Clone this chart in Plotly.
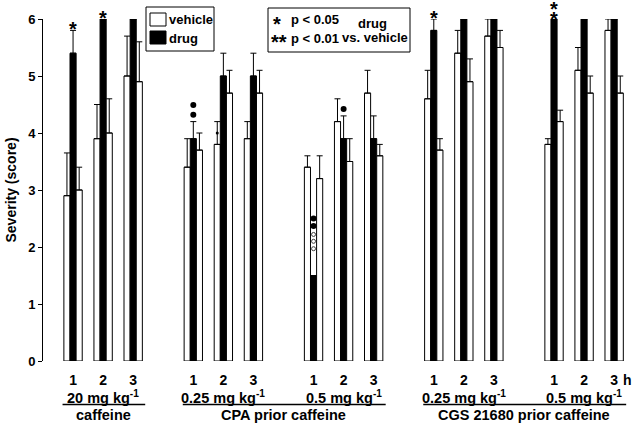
import plotly.graph_objects as go

# ---------------- data ----------------
hours = ["1", "2", "3"] * 5
dose_labels = ["20 mg kg<sup>-1</sup>", "0.25 mg kg<sup>-1</sup>", "0.5 mg kg<sup>-1</sup>",
               "0.25 mg kg<sup>-1</sup>", "0.5 mg kg<sup>-1</sup>"]
treatment_labels = ["caffeine", "CPA prior caffeine", "CGS 21680 prior caffeine"]
treatment_doses = [[0], [1, 2], [3, 4]]  # dose blocks belonging to each treatment

vehicle_a = [2.9, 3.9, 5.0, 3.4, 3.8, 3.9, 3.4, 4.2, 4.7, 4.6, 5.4, 5.7, 3.8, 5.1, 5.8]
vehicle_a_err = [0.75, 0.6, 0.7, 0.5, 0.4, 0.3, 0.2, 0.4, 0.4, 0.5, 0.4, 0.3, 0.1, 0.4, 0.2]
drug = [5.4, 6.0, 6.0, 3.9, 5.0, 5.0, 1.5, 3.9, 3.9, 5.8, 6.0, 6.0, 6.0, 6.0, 6.0]
drug_err = [0.4, None, None, 0.3, 0.4, 0.4, None, 0.4, 0.4, 0.2, None, None, None, None, None]
vehicle_b = [3.0, 4.0, 4.9, 3.7, 4.7, 4.7, 3.2, 3.5, 3.6, 3.7, 4.9, 5.5, 4.2, 4.7, 4.7]
vehicle_b_err = [0.4, 0.6, 0.7, 0.3, 0.4, 0.4, 0.4, 0.4, 0.2, 0.2, 0.4, 0.3, 0.2, 0.3, 0.3]

# significance stars (group index -> number of stars) above drug bars
sig_stars = {0: 1, 1: 1, 9: 1, 12: 2}
# symbols on drug bars (group index, value)
dots_filled = [(3, 4.32), (3, 4.49), (7, 4.42), (6, 2.5), (6, 2.37)]
dots_open = [(6, 2.22), (6, 2.1), (6, 1.97)]
dots_small_vehicle = [(4, 4.0)]

FONT = "Liberation Sans, Arial, sans-serif"

# ---------------- positions ----------------
pos = [d * 4 + h for d in range(5) for h in range(3)]
BARW = 0.61 / 3

fig = go.Figure()

def err(arr):
    return dict(type="data", symmetric=False, array=arr,
                arrayminus=[0] * len(arr), color="black", thickness=1, width=3)

fig.add_trace(go.Bar(x=pos, y=vehicle_a, name="vehicle", error_y=err(vehicle_a_err),
                     marker=dict(color="white", line=dict(color="black", width=1))))
fig.add_trace(go.Bar(x=pos, y=drug, name="drug", error_y=err(drug_err),
                     marker=dict(color="black", line=dict(color="black", width=1))))
fig.add_trace(go.Bar(x=pos, y=vehicle_b, name="vehicle", error_y=err(vehicle_b_err),
                     marker=dict(color="white", line=dict(color="black", width=1))))

fig.add_trace(go.Scatter(x=[pos[g] for g, v in dots_filled], y=[v for g, v in dots_filled],
                         mode="markers", cliponaxis=False,
                         marker=dict(symbol="circle", size=6, color="black")))
fig.add_trace(go.Scatter(x=[pos[g] for g, v in dots_open], y=[v for g, v in dots_open],
                         mode="markers", cliponaxis=False,
                         marker=dict(symbol="circle-open", size=4, color="#444444",
                                     line=dict(width=1, color="#444444"))))
fig.add_trace(go.Scatter(x=[pos[g] - BARW for g, v in dots_small_vehicle],
                         y=[v for g, v in dots_small_vehicle],
                         mode="markers", cliponaxis=False,
                         marker=dict(symbol="circle", size=3, color="black")))

annotations = []
# stars
for g, n in sig_stars.items():
    top = drug[g] + (drug_err[g] or 0)
    for k in range(n):
        annotations.append(dict(x=pos[g], y=top, xref="x", yref="y", text="*",
                                showarrow=False, yanchor="middle",
                                yshift=(1.5 if n == 1 else 0) + 10 * k,
                                font=dict(family=FONT, size=20, color="black")))

# dose labels and treatment labels
def px_x(X):
    return (X - 43) / 597

def px_y(Y):
    return (361 - Y) / 342

for d, lab in enumerate(dose_labels):
    annotations.append(dict(x=pos[d * 3 + 1], y=px_y(397), xref="x", yref="paper",
                            text=lab, showarrow=False, yanchor="middle",
                            font=dict(family=FONT, size=14.5, color="black", weight="bold")))
shapes = []
for t, lab in enumerate(treatment_labels):
    ds = treatment_doses[t]
    x0 = pos[ds[0] * 3] - 0.35
    x1 = pos[ds[-1] * 3 + 2] + 0.4
    shapes.append(dict(type="line", xref="x", yref="paper", x0=x0, x1=x1,
                       y0=px_y(404.5), y1=px_y(404.5), line=dict(color="black", width=1.5)))
    annotations.append(dict(x=(pos[ds[0] * 3] + pos[ds[-1] * 3 + 2]) / 2, y=px_y(415),
                            xref="x", yref="paper", text=lab, showarrow=False,
                            yanchor="middle",
                            font=dict(family=FONT, size=14.5, color="black", weight="bold")))

annotations.append(dict(x=px_x(634), y=px_y(380), xref="paper", yref="paper", text="h",
                        showarrow=False, yanchor="middle",
                        font=dict(family=FONT, size=14, color="black", weight="bold")))

# legend box 1
shapes.append(dict(type="rect", xref="paper", yref="paper", x0=px_x(146), x1=px_x(214),
                   y0=px_y(51), y1=px_y(7), line=dict(color="black", width=1)))
shapes.append(dict(type="rect", xref="paper", yref="paper", x0=px_x(150), x1=px_x(166),
                   y0=px_y(26), y1=px_y(13), fillcolor="white", line=dict(color="black", width=1)))
shapes.append(dict(type="rect", xref="paper", yref="paper", x0=px_x(150), x1=px_x(166),
                   y0=px_y(44), y1=px_y(31), fillcolor="black", line=dict(color="black", width=1)))
for txt, Y in [("vehicle", 20), ("drug", 38)]:
    annotations.append(dict(x=px_x(167), y=px_y(Y), xref="paper", yref="paper", text=txt,
                            showarrow=False, xanchor="left", yanchor="middle",
                            font=dict(family=FONT, size=13, color="black", weight="bold")))

# legend box 2
shapes.append(dict(type="rect", xref="paper", yref="paper", x0=px_x(268), x1=px_x(410),
                   y0=px_y(52), y1=px_y(8), line=dict(color="black", width=1)))
for txt, X, Y, anc in [("*", 271, 24, "left"), ("**", 269, 42, "left"),
                       ("p < 0.05", 289, 20, "left"), ("p < 0.01", 289, 38, "left"),
                       ("drug", 372, 23, "center"), ("vs. vehicle", 375, 37, "center")]:
    sz = 20 if "*" in txt else 13
    annotations.append(dict(x=px_x(X), y=px_y(Y), xref="paper", yref="paper", text=txt,
                            showarrow=False, xanchor=anc, yanchor="middle",
                            font=dict(family=FONT, size=sz, color="black", weight="bold")))

fig.update_layout(
    width=640, height=424,
    margin=dict(l=43, r=0, t=19, b=63),
    paper_bgcolor="white", plot_bgcolor="white",
    barmode="group", bargap=0.39, bargroupgap=0,
    showlegend=False,
    font=dict(family=FONT, color="black", weight="bold"),
    xaxis=dict(range=[-1, 18.86], tickvals=pos, ticktext=hours, ticks="",
               showline=False, showgrid=False, zeroline=False, ticklabelstandoff=9,
               tickfont=dict(family=FONT, size=14, color="black", weight="bold")),
    yaxis=dict(range=[0, 6], tickvals=[0, 1, 2, 3, 4, 5, 6], ticks="outside", ticklen=4,
               tickcolor="black", showline=True, linecolor="black", linewidth=1,
               showgrid=False, zeroline=False,
               tickfont=dict(family=FONT, size=13, color="black", weight="bold"),
               title=dict(text="Severity (score)", standoff=8,
                          font=dict(family=FONT, size=14, color="black", weight="bold"))),
    annotations=annotations,
    shapes=shapes,
)

fig.write_html("out.html", config={"displayModeBar": False},
               post_script="document.body.style.margin='0';")
